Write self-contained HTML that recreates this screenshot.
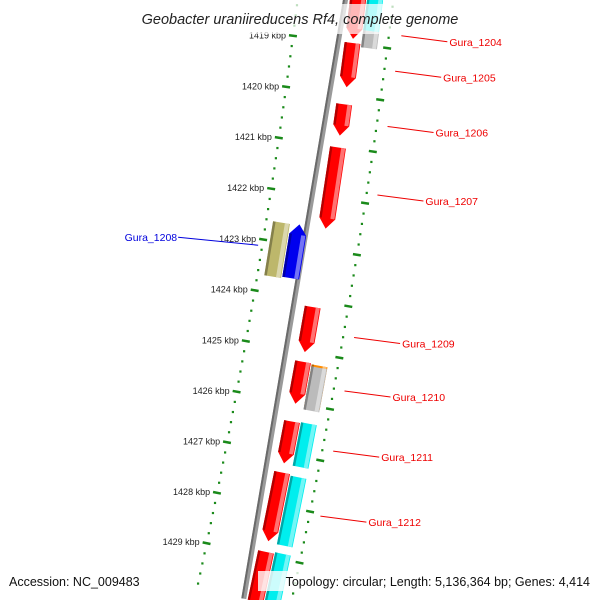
<!DOCTYPE html>
<html><head><meta charset="utf-8"><style>
html,body{margin:0;padding:0;background:#fff;overflow:hidden;}
svg{display:block;font-family:"Liberation Sans","DejaVu Sans",sans-serif;}
</style></head><body>
<svg id="map" width="600" height="600" viewBox="0 0 600 600">
<defs><clipPath id="frame"><rect x="0" y="0" width="600" height="600"/></clipPath></defs>
<g clip-path="url(#frame)">
<g id="backbone"></g>
<g id="features"></g>
<g id="rulers"></g>
<g id="labels"></g>
</g>
<rect x="128" y="4" width="344" height="30" fill="#fff" fill-opacity="0.72"/>
<text x="300" y="24" text-anchor="middle" font-size="14.5" font-style="italic" fill="#222">Geobacter uraniireducens Rf4, complete genome</text>
<rect x="4" y="571" width="144" height="20" fill="#fff" fill-opacity="0.8"/>
<text x="9" y="586" font-size="12.5" fill="#111">Accession: NC_009483</text>
<rect x="258" y="571" width="338" height="20" fill="#fff" fill-opacity="0.8"/>
<text x="590" y="586" text-anchor="end" font-size="12.5" fill="#111">Topology: circular; Length: 5,136,364 bp; Genes: 4,414</text>
</svg>
<script>
// ---- data ----
const featNames = ["Gura_1204","Gura_1205","Gura_1206","Gura_1207","Gura_1208","Gura_1209","Gura_1210","Gura_1211","Gura_1212","Gura_1213","olive-1","cyan-1","gray-1","orange-1","gray-2","cyan-2","cyan-3","cyan-4"];
const featStart = [1418.1,1418.99,1420.18,1421.02,1422.6,1424.13,1425.2,1426.37,1427.37,1428.93,1422.62,1418.1,1418.72,1425.22,1425.26,1426.35,1427.4,1428.9];
const featEnd   = [1418.91,1419.85,1420.79,1422.6,1423.65,1425.01,1426.02,1427.19,1428.72,1429.9,1423.68,1418.72,1419.05,1426.05,1426.1,1427.2,1428.74,1429.9];
const featLane  = [1,1,1,1,-1,1,1,1,1,1,-2,2,2,2,2,2,2,2];
const featColor = ["#ff0000","#ff0000","#ff0000","#ff0000","#0000ee","#ff0000","#ff0000","#ff0000","#ff0000","#ff0000","#bdb76b","#00eeee","#bbbbbb","#ff8c00","#bbbbbb","#00eeee","#00eeee","#00eeee"];
const featArrow = [1,1,1,1,-1,1,1,1,1,0,0,0,0,0,0,0,0,0];
const labelIdx  = [0,1,2,3,4,5,6,7,8];
const tickStart = 1417.8;
const tickEnd = 1429.8;
const tickLabelMax = 1429;
// ---- geometry ----
const CX=-6303, CY=-826, R=6700, TH0=0.169, KREF=1424.05, DTH=0.00774;
const labelShift = {0:[0,12]};
function P(k,off){const th=TH0+(k-KREF)*DTH;const r=R+off;return [CX+r*Math.cos(th),CY+r*Math.sin(th)];}
const NS="http://www.w3.org/2000/svg";
function mk(tag,attrs,parent){const e=document.createElementNS(NS,tag);for(const a in attrs)e.setAttribute(a,attrs[a]);parent.appendChild(e);return e;}
function pts(arr){return arr.map(p=>p[0].toFixed(1)+","+p[1].toFixed(1)).join(" ");}
const laneOff={1:[4,20],2:[21,37],"-1":[-23,-6],"-2":[-41,-24]};
// backbone
const bb=document.getElementById('backbone');
let a=P(1418.0,0),b=P(1429.9,0);
let l1=mk('line',{x1:a[0],y1:a[1],x2:b[0],y2:b[1],stroke:'#9a9a9a','stroke-width':5},bb);


a=P(1418.0,-1.5);b=P(1429.9,-1.5);
let l2=mk('line',{x1:a[0],y1:a[1],x2:b[0],y2:b[1],stroke:'#6a6a6a','stroke-width':2},bb);


// features
const fg=document.getElementById('features');
function shade(hex,f){const n=parseInt(hex.slice(1),16);let r=n>>16,g=(n>>8)&255,bl=n&255;
 if(f>0){r+= (255-r)*f;g+=(255-g)*f;bl+=(255-bl)*f;}else{r*=1+f;g*=1+f;bl*=1+f;}
 return "rgb("+Math.round(r)+","+Math.round(g)+","+Math.round(bl)+")";}
for(let i=0;i<featNames.length;i++){
 const s=featStart[i],e=featEnd[i],[o1,o2]=laneOff[featLane[i]],c=featColor[i],ar=featArrow[i];
 const al=Math.min(0.2,(e-s)*0.4);const mid=(o1+o2)/2;
 let poly,bs=s,be=e;
 if(ar===1){poly=[P(s,o1),P(e-al,o1),P(e,mid),P(e-al,o2),P(s,o2)];be=e-al;}
 else if(ar===-1){poly=[P(s,mid),P(s+al,o1),P(e,o1),P(e,o2),P(s+al,o2)];bs=s+al;}
 else poly=[P(s,o1),P(e,o1),P(e,o2),P(s,o2)];
 const g=mk('g',{},fg);
 
 
 mk('polygon',{points:pts(poly),fill:c},g);
 const inner=Math.min(o1,o2),outer=Math.max(o1,o2),w=outer-inner;
 mk('polygon',{points:pts([P(bs,inner),P(be,inner),P(be,inner+w*0.15),P(bs,inner+w*0.15)]),fill:shade(c,-0.3)},g);
 mk('polygon',{points:pts([P(bs,outer-w*0.3),P(be,outer-w*0.3),P(be,outer-w*0.05),P(bs,outer-w*0.05)]),fill:shade(c,0.45)},g);
}
// rulers
const rg=document.getElementById('rulers');
for(const ring of [-48,47]){
 for(let t=Math.round(tickStart*5);t<=Math.round(tickEnd*5);t++){
  const k=t/5;
  if(t%5===0){const p1=P(k,ring-4),p2=P(k,ring+4);
   const d=mk('line',{x1:p1[0],y1:p1[1],x2:p2[0],y2:p2[1],stroke:'#1a8a1a','stroke-width':2.5},rg);
   
   
   if(ring<0 && k<=tickLabelMax){const lp=P(k,ring-7);
    const tx=mk('text',{x:lp[0].toFixed(1),y:(lp[1]+3.5).toFixed(1),'text-anchor':'end','font-size':9,fill:'#222'},rg);
    tx.textContent=k+' kbp';
    
    }
  }else{const p=P(k,ring);
   const d=mk('rect',{x:p[0]-1,y:p[1]-1,width:2.2,height:2.2,fill:'#1a8a1a'},rg);
   
   }
 }
}
// labels
const lg=document.getElementById('labels');
for(const i of labelIdx){
 const m=(featStart[i]+featEnd[i])/2;const fwd=featLane[i]>0;
 const sh=labelShift[i]||[0,0];
 const p=P(m,fwd?58:-52);p[1]+=sh[1];p[0]+=sh[0];
 const q=fwd?[p[0]+46,p[1]+6]:[p[0]-80,p[1]-8];
 const col=fwd?'#ee0000':'#0000dd';
 const ln=mk('line',{x1:p[0],y1:p[1],x2:q[0],y2:q[1],stroke:col,'stroke-width':1},lg);
 
 
 const tx=mk('text',{x:fwd?q[0]+2:q[0]-1,y:q[1]+4,'text-anchor':fwd?'start':'end','font-size':10.5,fill:col},lg);
 tx.textContent=featNames[i];
 
 
}
</script>
</body></html>
